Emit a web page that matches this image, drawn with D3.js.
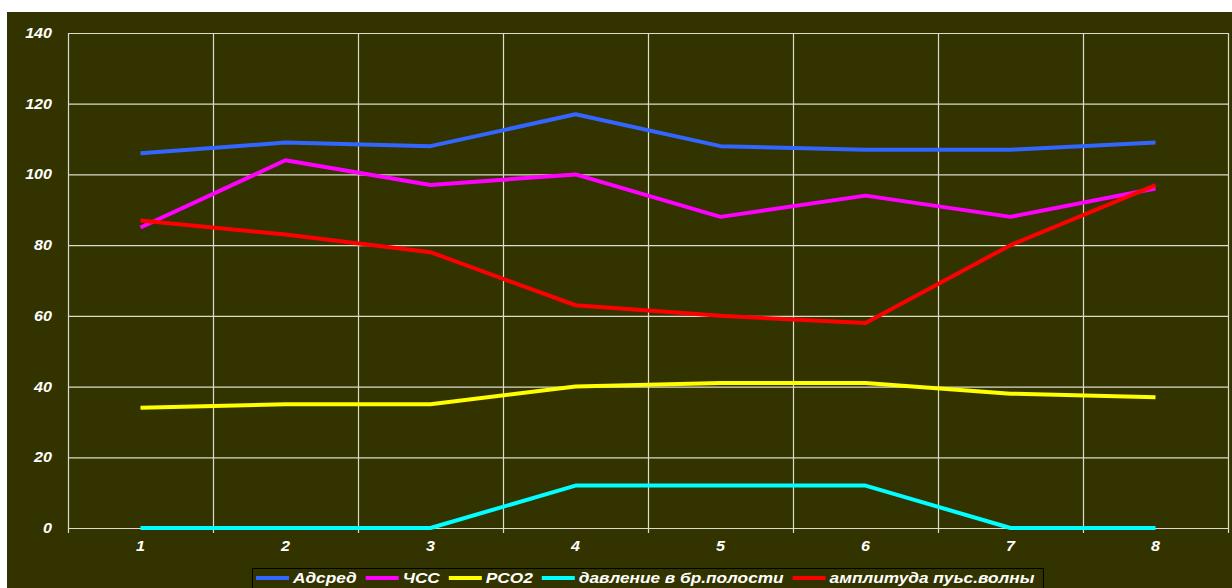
<!DOCTYPE html>
<html><head><meta charset="utf-8">
<script src="https://cdn.jsdelivr.net/npm/d3@7"></script>
<style>
html,body{margin:0;padding:0;background:#fff;}
svg{display:block;}
text{font-family:"Liberation Sans",Arial,sans-serif;font-weight:bold;font-style:italic;fill:#fff;}
</style></head><body>
<svg id="c" width="1232" height="588"></svg>
<script>
const categories = ["1","2","3","4","5","6","7","8"];
const yTicks = [0,20,40,60,80,100,120,140];
const adsred = [106,109,108,117,108,107,107,109];
const chss = [85,104,97,100,88,94,88,96];
const pco2 = [34,35,35,40,41,41,38,37];
const davlenie = [0,0,0,12,12,12,0,0];
const amplituda = [87,83,78,63,60,58,80,97];
const seriesNames = ["Адсред","ЧСС","PCO2","давление в бр.полости","амплитуда пуьс.волны"];
const seriesColors = ["#3366ff","#ff00ff","#ffff00","#00ffff","#ff0000"];
const seriesData = [adsred, chss, pco2, davlenie, amplituda];

const SX = 1.15;
const svg = d3.select("#c");
svg.append("rect").attr("x",7).attr("y",12).attr("width",1232-7).attr("height",588-12).attr("fill","#333300");

const L=68, R=1228, T=33, B=528;
const x = d3.scaleBand().domain(categories).range([L,R]);
const y = d3.scaleLinear().domain([0,140]).range([B,T]);
const gridColor = "#dcdccc";

svg.append("g").selectAll("line").data(yTicks).join("line")
  .attr("x1",L).attr("x2",R).attr("y1",d=>y(d)+0.5).attr("y2",d=>y(d)+0.5)
  .attr("stroke",gridColor).attr("stroke-width",1.2);
const edges = categories.map(c=>x(c)).concat([R]);
svg.append("g").selectAll("line").data(edges).join("line")
  .attr("x1",d=>Math.round(d)+0.5).attr("x2",d=>Math.round(d)+0.5).attr("y1",T).attr("y2",B+5)
  .attr("stroke",gridColor).attr("stroke-width",1.2);

function label(g, px, py, txt, anchor, size){
  const gg = g.append("g").attr("transform",`translate(${px},${py}) scale(${SX},1)`);
  return gg.append("text").attr("x",0).attr("y",0).attr("dy","0.36em").attr("text-anchor",anchor).attr("font-size",size).text(txt);
}
const gy = svg.append("g");
yTicks.forEach(d=>label(gy, 52, y(d), d, "end", 14));
const gx = svg.append("g");
categories.forEach(d=>label(gx, x(d)+x.bandwidth()/2, 546, d, "middle", 14));

const line = d3.line().x((d,i)=>x(categories[i])+x.bandwidth()/2).y(d=>y(d));
seriesData.forEach((s,k)=>{
  svg.append("path").attr("d",line(s)).attr("fill","none").attr("stroke",seriesColors[k])
    .attr("stroke-width",4).attr("stroke-linejoin","round");
});

const lg = svg.append("g");
const box = lg.append("rect").attr("x",252.5).attr("y",568.5).attr("height",30).attr("fill","#333300").attr("stroke","#000").attr("stroke-width",1);
let cx = 256;
seriesNames.forEach((n,k)=>{
  lg.append("line").attr("x1",cx).attr("x2",cx+33).attr("y1",578).attr("y2",578).attr("stroke",seriesColors[k]).attr("stroke-width",4);
  const t = label(lg, cx+37, 578, n, "start", 15);
  const w = t.node().getComputedTextLength()*SX;
  cx = cx+37+w+9;
});
box.attr("width",cx-252.5);
</script>
</body></html>
